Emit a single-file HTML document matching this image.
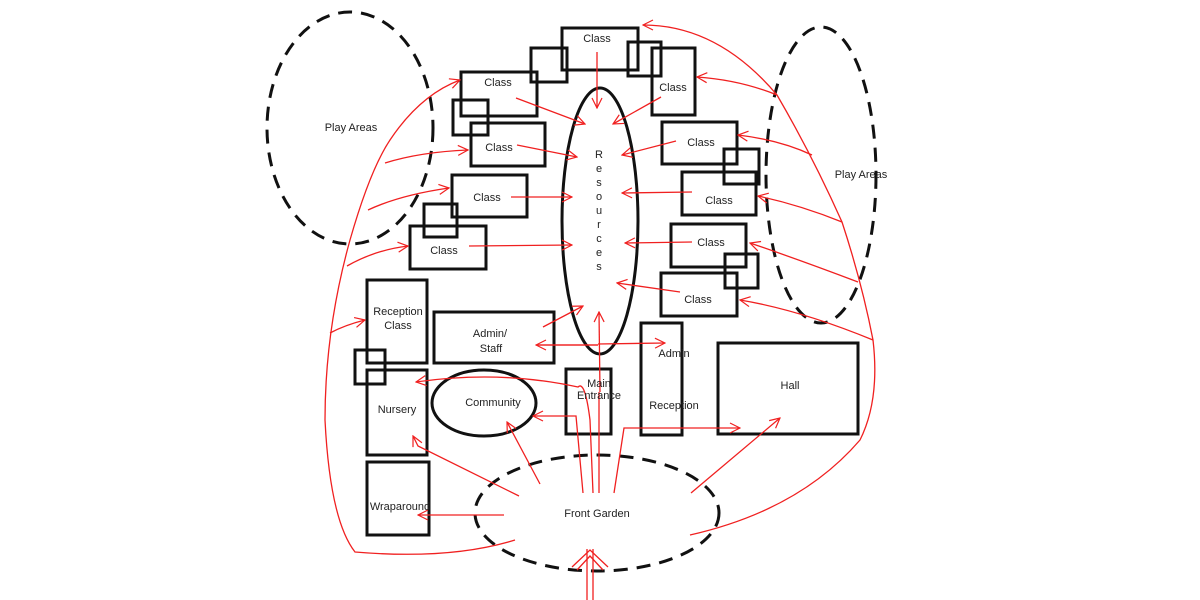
<!DOCTYPE html>
<html><head><meta charset="utf-8"><style>
html,body{margin:0;padding:0;background:#fff;}
svg{display:block}
text{font-family:"Liberation Sans",Arial,sans-serif;font-size:11px;fill:#222;text-anchor:middle}
</style></head><body>
<svg width="1200" height="600" viewBox="0 0 1200 600" xmlns="http://www.w3.org/2000/svg">
<defs>
<marker id="a" viewBox="0 0 12 12" refX="11" refY="6" markerWidth="12" markerHeight="12" markerUnits="userSpaceOnUse" orient="auto">
<path d="M1,1 L11,6 L1,11" fill="none" stroke="#f02020" stroke-width="1.2"/>
</marker>
</defs>
<rect width="1200" height="600" fill="#fff"/>
<!-- dashed ellipses -->
<g fill="none" stroke="#111" stroke-width="3" stroke-dasharray="14 9">
<ellipse cx="350" cy="128" rx="83" ry="116"/>
<ellipse cx="821" cy="175" rx="55" ry="148"/>
<ellipse cx="597" cy="513" rx="122" ry="58"/>
</g>
<!-- boxes -->
<g fill="none" stroke="#111" stroke-width="3">
<rect x="562" y="28" width="76" height="42"/>
<rect x="531" y="48" width="36" height="34"/>
<rect x="628" y="42" width="33" height="34"/>
<rect x="652" y="48" width="43" height="67"/>
<rect x="461" y="72" width="76" height="44"/>
<rect x="453" y="100" width="35" height="35"/>
<rect x="471" y="123" width="74" height="43"/>
<rect x="452" y="175" width="75" height="42"/>
<rect x="424" y="204" width="33" height="33"/>
<rect x="410" y="226" width="76" height="43"/>
<rect x="662" y="122" width="75" height="42"/>
<rect x="724" y="149" width="35" height="35"/>
<rect x="682" y="172" width="74" height="43"/>
<rect x="671" y="224" width="75" height="43"/>
<rect x="725" y="254" width="33" height="34"/>
<rect x="661" y="273" width="76" height="43"/>
<rect x="367" y="280" width="60" height="83"/>
<rect x="355" y="350" width="30" height="34"/>
<rect x="367" y="370" width="60" height="85"/>
<rect x="367" y="462" width="62" height="73"/>
<rect x="434" y="312" width="120" height="51"/>
<rect x="566" y="369" width="45" height="65"/>
<rect x="641" y="323" width="41" height="112"/>
<rect x="718" y="343" width="140" height="91"/>
<ellipse cx="600" cy="221" rx="38" ry="133"/>
<ellipse cx="484" cy="403" rx="52" ry="33"/>
</g>
<!-- red lines -->
<g fill="none" stroke="#f02020" stroke-width="1.3">
<path d="M515,540 Q450,560 355,552 Q330,520 325,420 Q325,330 350,240 Q370,170 390,140 Q420,95 460,80" marker-end="url(#a)"/>
<path d="M385,163 Q420,152 468,150" marker-end="url(#a)"/>
<path d="M368,210 Q400,195 449,188" marker-end="url(#a)"/>
<path d="M347,266 Q375,250 408,246" marker-end="url(#a)"/>
<path d="M330,333 Q345,325 365,320" marker-end="url(#a)"/>
<path d="M690,535 Q800,510 860,440 Q880,400 873,340 Q862,283 842,222 Q812,155 777,95 Q718,25 643,25" marker-end="url(#a)"/>
<path d="M777,95 Q740,80 697,77" marker-end="url(#a)"/>
<path d="M812,155 Q780,140 738,135" marker-end="url(#a)"/>
<path d="M842,222 Q800,205 758,196" marker-end="url(#a)"/>
<path d="M858,282 Q800,260 750,243" marker-end="url(#a)"/>
<path d="M873,340 Q800,310 740,300" marker-end="url(#a)"/>
<path d="M597,52 L597,108" marker-end="url(#a)"/>
<path d="M516,98 L585,124" marker-end="url(#a)"/>
<path d="M517,145 L577,157" marker-end="url(#a)"/>
<path d="M511,197 L572,197" marker-end="url(#a)"/>
<path d="M469,246 L572,245" marker-end="url(#a)"/>
<path d="M661,97 L613,124" marker-end="url(#a)"/>
<path d="M676,141 L622,155" marker-end="url(#a)"/>
<path d="M692,192 L622,193" marker-end="url(#a)"/>
<path d="M692,242 L625,243" marker-end="url(#a)"/>
<path d="M680,292 L617,283" marker-end="url(#a)"/>
<path d="M543,327 L583,306" marker-end="url(#a)"/>
<path d="M600,392 L599,312" marker-end="url(#a)"/>
<path d="M598,345 L537,345"/>
<path d="M598,345 L536,345" marker-end="url(#a)"/>
<path d="M598,344 L665,343" marker-end="url(#a)"/>
<path d="M593,493 L590,420 Q585,380 578,387 Q500,370 416,382" marker-end="url(#a)"/>
<path d="M583,493 L576,416 L533,416" marker-end="url(#a)"/>
<path d="M599,493 L599,392"/>
<path d="M614,493 L624,428 L740,428" marker-end="url(#a)"/>
<path d="M691,493 L780,418" marker-end="url(#a)"/>
<path d="M540,484 L507,422" marker-end="url(#a)"/>
<path d="M519,496 L418,446 L413,436" marker-end="url(#a)"/>
<path d="M504,515 L418,515" marker-end="url(#a)"/>
<path d="M587,600 L587,549 M593,600 L593,549"/>
<path d="M572,567 L590,550 L608,567 M577,570 L590,556 L603,570"/>
</g>
<!-- labels -->
<text x="597" y="42">Class</text>
<text x="673" y="91">Class</text>
<text x="498" y="86">Class</text>
<text x="499" y="151">Class</text>
<text x="487" y="201">Class</text>
<text x="444" y="254">Class</text>
<text x="701" y="146">Class</text>
<text x="719" y="204">Class</text>
<text x="711" y="246">Class</text>
<text x="698" y="303">Class</text>
<text x="351" y="131">Play Areas</text>
<text x="861" y="178">Play Areas</text>
<text x="398" y="315">Reception</text>
<text x="398" y="329">Class</text>
<text x="397" y="413">Nursery</text>
<text x="400" y="510">Wraparound</text>
<text x="490" y="337">Admin/</text>
<text x="491" y="352">Staff</text>
<text x="599" y="387">Main</text>
<text x="599" y="399">Entrance</text>
<text x="674" y="357">Admin</text>
<text x="674" y="409">Reception</text>
<text x="790" y="389">Hall</text>
<text x="493" y="406">Community</text>
<text x="597" y="517">Front Garden</text>
<g>
<text x="599" y="158">R</text><text x="599" y="172">e</text><text x="599" y="186">s</text><text x="599" y="200">o</text><text x="599" y="214">u</text><text x="599" y="228">r</text><text x="599" y="242">c</text><text x="599" y="256">e</text><text x="599" y="270">s</text>
</g>
</svg>
</body></html>
